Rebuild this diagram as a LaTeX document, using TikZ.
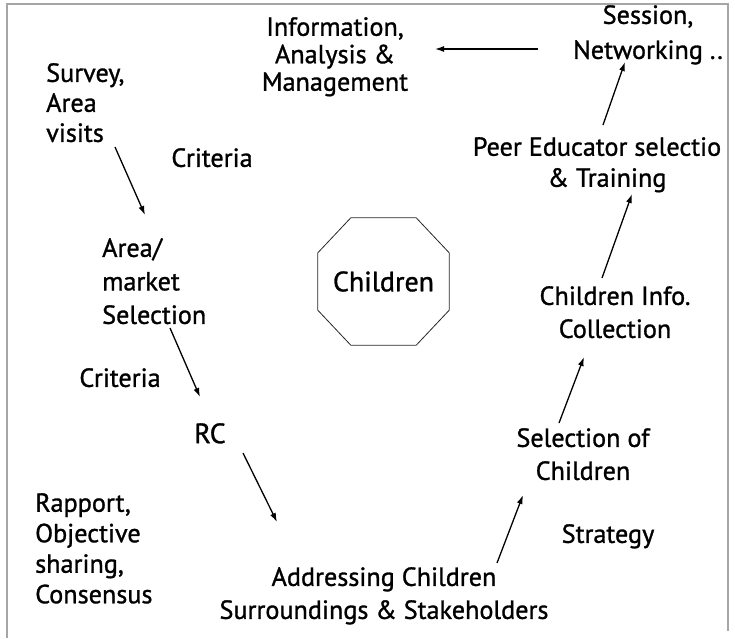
\documentclass[tikz,border=0pt]{standalone}
\usepackage{fontspec}
\setmainfont{PT Sans}[FakeBold=1.1]
\usepackage{tikz}
\usetikzlibrary{arrows.meta}

\begin{document}
\begin{tikzpicture}[x=1pt, y=-1pt,
    every node/.style={inner sep=0pt, font=\fontsize{26.2}{32}\selectfont},
    lbl/.style={align=center, anchor=north},
    lblleft/.style={align=left, anchor=north west},
    flow/.style={-{Latex[length=9pt,width=6pt]}, line width=1.3pt}]
    \useasboundingbox (0,0) rectangle (735,638);
    \draw [gray!70, line width=2pt] (7,638) -- (7,4) -- (728,4) -- (728,631);

    % centre
    \node (kids) [minimum width=131pt, minimum height=127pt, font=\fontsize{28}{32}\selectfont] at (383.5,281.5) {Children};
    \draw [line width=0.8pt, black!85] ([xshift=33pt]kids.north west) -- ([xshift=-33pt]kids.north east)
        -- ([yshift=-35pt]kids.north east) -- ([yshift=35pt]kids.south east)
        -- ([xshift=-33pt]kids.south east) -- ([xshift=33pt]kids.south west)
        -- ([yshift=35pt]kids.south west) -- ([yshift=-35pt]kids.north west) -- cycle;

    % steps of the cycle
    \node (survey) [lblleft, font=\fontsize{26.2}{30}\selectfont] at (46,63) {Survey,\\Area\\visits};
    \node (crittop) [lbl] at (212,148) {Criteria};
    \node (areasel) [lblleft, font=\fontsize{26.2}{33.5}\selectfont] at (102,238) {Area/\\market\\Selection};
    \node (critlow) [lbl] at (120,368) {Criteria};
    \node (rc) [lbl, font=\fontsize{28}{32}\selectfont] at (210,423) {RC};
    \node (rapport) [lblleft, font=\fontsize{26.2}{30.5}\selectfont] at (35,493) {Rapport,\\Objective\\sharing,\\Consensus};
    \node (addr) [lbl, font=\fontsize{26.2}{33}\selectfont] at (384,567) {Addressing Children\\Surroundings \& Stakeholders};
    \node (strategy) [lbl] at (608,524) {Strategy};
    \node (selchild) [lbl, font=\fontsize{26.2}{33}\selectfont] at (583,428) {Selection of\\Children};
    \node (info) [lbl, font=\fontsize{26.2}{33}\selectfont] at (615,286) {Children Info.\\Collection};
    \node (peer) [lbl, font=\fontsize{26.2}{31}\selectfont] at (597,137) {Peer Educator selectio\\\hspace*{20pt}\& Training};
    \node (session) [lbl, font=\fontsize{26.2}{35}\selectfont] at (648,5) {Session,\\Networking ..};
    \node (manage) [lbl, font=\fontsize{26.2}{27.5}\selectfont] at (335,17) {Information,\\Analysis \&\\Management};

    % arrow ends
    \coordinate (s1) at (115,147); \coordinate (e1) at (145,215);
    \coordinate (s2) at (170,328); \coordinate (e2) at (200,397);
    \coordinate (s3) at (243,453); \coordinate (e3) at (277,522);
    \coordinate (s4) at (497,563); \coordinate (e4) at (523,495);
    \coordinate (s5) at (559,423); \coordinate (e5) at (584,357);
    \coordinate (s6) at (602,278); \coordinate (e6) at (632,194);
    \coordinate (s7) at (603,125); \coordinate (e7) at (625,62);
    \coordinate (s8) at (538,49);  \coordinate (e8) at (435,49);
    \foreach \i in {1,...,8}
        \draw [flow] (s\i) -- (e\i);
\end{tikzpicture}
\end{document}
